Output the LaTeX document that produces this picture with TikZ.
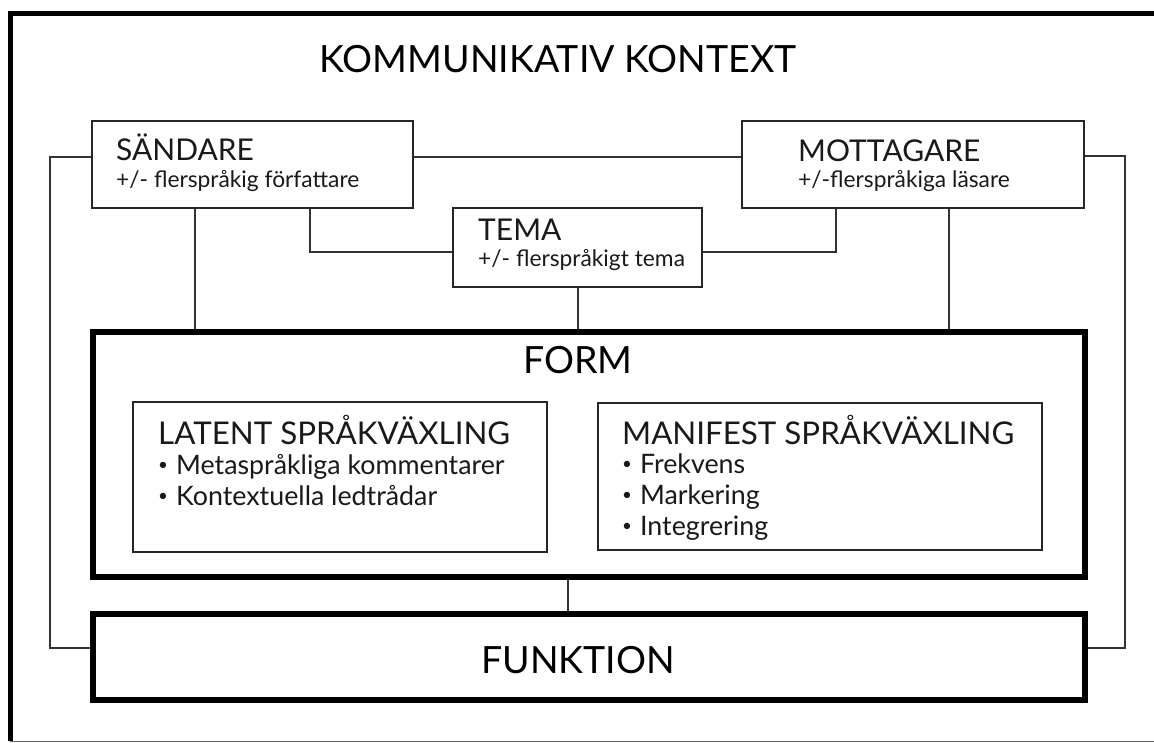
\documentclass[tikz,border=0pt]{standalone}
\usepackage{fontspec}
\setmainfont{Lato}
\usetikzlibrary{calc}
\newcommand{\blt}{\raisebox{0.12em}{\fontsize{17}{17}\selectfont\textbullet}\hspace{0.3em}}
\tikzset{
  thinbox/.style={draw=black!85, line width=1.3pt, rectangle, inner sep=0pt},
  thickbox/.style={draw=black, line width=6.5pt, rectangle, inner sep=0pt},
  conn/.style={draw=black!80, line width=1.3pt},
  txt/.style={inner sep=0pt, anchor=base west, text=black!90},
  bigtxt/.style={inner sep=0pt, anchor=base, font=\fontsize{37.5}{40}\selectfont},
  hd/.style={txt, font=\fontsize{30}{32}\selectfont},
  sub/.style={txt, font=\fontsize{22.8}{25}\selectfont},
  ihd/.style={txt, font=\fontsize{31.3}{34}\selectfont},
  item/.style={txt, font=\fontsize{26.8}{29}\selectfont},
}
\begin{document}
\begin{tikzpicture}[x=1pt, y=-1pt]
\useasboundingbox (0,0) rectangle (1154,743);
% outer frame (partly cropped)
\draw[line width=5pt] (1160,14) -- (10,14) -- (10,741);
\draw[black!60, line width=1.2pt] (10,741.5) -- (1160,741.5);

\node[bigtxt] (title) at (558,73) {KOMMUNIKATIV KONTEXT};

% boxes
\node[thinbox, minimum width=321pt, minimum height=87pt] (sand) at (252.5,164.5) {};
\node[thinbox, minimum width=342pt, minimum height=87pt] (mott) at (913,164.5) {};
\node[thinbox, minimum width=249pt, minimum height=79pt] (tema) at (577.5,247.5) {};
\node[thickbox, minimum width=992pt, minimum height=245pt] (form) at (589,454.5) {};
\node[thinbox, minimum width=414pt, minimum height=150pt] (latent) at (340,477) {};
\node[thinbox, minimum width=444pt, minimum height=147pt] (manif) at (820,476.5) {};
\node[thickbox, minimum width=992pt, minimum height=86pt] (funk) at (589,657) {};

% texts
\node[hd] (sandh) at (116,161) {SÄNDARE};
\node[sub] (sands) at (116,188) {+/- flerspråkig författare};
\node[hd] (motth) at (798,162) {MOTTAGARE};
\node[sub] (motts) at (798,188) {+/-flerspråkiga läsare};
\node[hd] (temah) at (478,241) {TEMA};
\node[sub] (temas) at (478,267) {+/- flerspråkigt tema};
\node[bigtxt] (formt) at (578,373) {FORM};
\node[ihd] (lath) at (158,444) {LATENT SPRÅKVÄXLING};
\node[item] (lat1) at (158,474) {\blt Metaspråkliga kommentarer};
\node[item] (lat2) at (158,505) {\blt Kontextuella ledtrådar};
\node[ihd] (manh) at (622,444) {MANIFEST SPRÅKVÄXLING};
\node[item] (man1) at (622,473) {\blt Frekvens};
\node[item] (man2) at (622,504) {\blt Markering};
\node[item] (man3) at (622,535) {\blt Integrering};
\node[bigtxt] (funkt) at (578,673) {FUNKTION};

% connectors
\draw[conn] (sand.north east |- 0,157) -- (mott.north west |- 0,157);
\draw[conn] (sand.north west |- 0,157) -| (50,648) -- (funk.north west |- 0,648);
\draw[conn] (mott.north east |- 0,156) -| (1125,648) -- (funk.north east |- 0,648);
\draw[conn] (sand.south west -| 195,0) -- (form.north west -| 195,0);
\draw[conn] (sand.south west -| 310,0) |- (tema.north west |- 0,252);
\draw[conn] (mott.south west -| 836,0) |- (tema.north east |- 0,252);
\draw[conn] (mott.south west -| 949,0) -- (form.north west -| 949,0);
\draw[conn] (tema.south) ++(0.5,0) coordinate (ts) -- (ts |- form.north);
\draw[conn] (form.south west -| 568,0) -- (funk.north west -| 568,0);
\end{tikzpicture}
\end{document}
